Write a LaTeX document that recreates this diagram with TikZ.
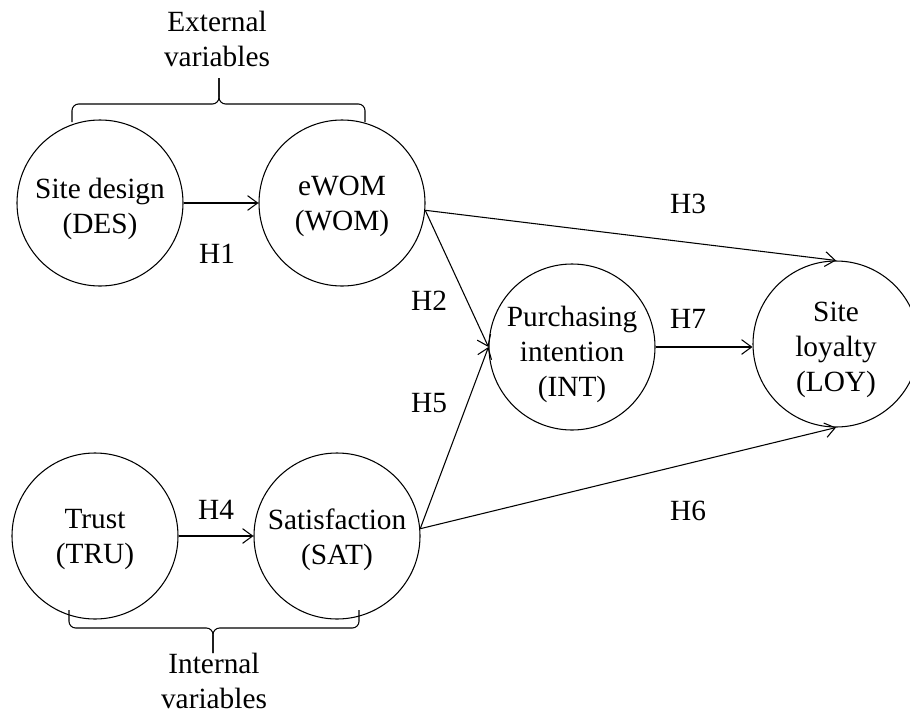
\documentclass[tikz,border=0pt]{standalone}
\usepackage{fontspec}
\setmainfont{Liberation Serif}
\usetikzlibrary{arrows.meta}
\begin{document}
\begin{tikzpicture}[x=0.75pt,y=-0.75pt,
  var/.style={circle,draw,line width=0.8pt,minimum size=124.5pt,inner sep=0pt},
  txt/.style={align=center,font=\fontsize{22}{26.25}\selectfont,inner sep=0pt},
  hyp/.style={anchor=base,font=\fontsize{22}{26.25}\selectfont,inner sep=0pt},
  arr/.style={line width=0.8pt,-{Straight Barb[length=7.5pt,width=11pt,line width=0.8pt]}},
  bracepath/.style={line width=0.8pt,rounded corners=5pt}]
\useasboundingbox (0,0) rectangle (910,714);
% circles
\node[var] (DES) at (100,203) {};
\node[var] (WOM) at (342,203) {};
\node[var] (TRU) at (95,536) {};
\node[var] (SAT) at (337,536) {};
\node[var] (INT) at (572,347) {};
\node[var] (LOY) at (836,344) {};
% texts in circles
\node[txt] (DEStxt) at (100,209) {Site design\\(DES)};
\node[txt] (WOMtxt) at (342,206) {eWOM\\(WOM)};
\node[txt] (TRUtxt) at (95,540) {Trust\\(TRU)};
\node[txt] (SATtxt) at (337,540) {Satisfaction\\(SAT)};
\node[txt] (INTtxt) at (572,354) {Purchasing\\intention\\(INT)};
\node[txt] (LOYtxt) at (836,350) {Site\\loyalty\\(LOY)};
% connectors
\draw[arr] (DES.east) -- (WOM.west);
\draw[arr] (TRU.east) -- (SAT.west);
\draw[arr] (WOM.-5) -- (LOY.north);
\draw[arr] (WOM.-5) -- (INT.west);
\draw[arr] (SAT.5) -- (INT.west);
\draw[arr] (SAT.5) -- (LOY.south);
\draw[arr] (INT.east) -- (INT.east -| LOY.west);
% hypothesis labels
\node[hyp] (H1) at (217,263) {H1};
\node[hyp] (H2) at (429,310) {H2};
\node[hyp] (H3) at (688,213) {H3};
\node[hyp] (H4) at (216,519) {H4};
\node[hyp] (H5) at (429,412) {H5};
\node[hyp] (H6) at (688,520) {H6};
\node[hyp] (H7) at (688,328) {H7};
% top brace
\coordinate (tbL) at (72,122);
\coordinate (tbR) at (365,122);
\coordinate (tbM) at (219,104);
\coordinate (tbTip) at (219,78);
\draw[bracepath] (tbL) |- (tbM) -- (tbTip);
\draw[bracepath] (tbR) |- (tbM) -- (tbTip);
\node[txt] (ext) at (217,39) {External\\variables};
% bottom brace
\coordinate (bbL) at (69,610);
\coordinate (bbR) at (359,610);
\coordinate (bbM) at (213,628);
\coordinate (bbTip) at (213,653);
\draw[bracepath] (bbL) |- (bbM) -- (bbTip);
\draw[bracepath] (bbR) |- (bbM) -- (bbTip);
\node[txt] (intl) at (214,681) {Internal\\variables};
\end{tikzpicture}
\end{document}
